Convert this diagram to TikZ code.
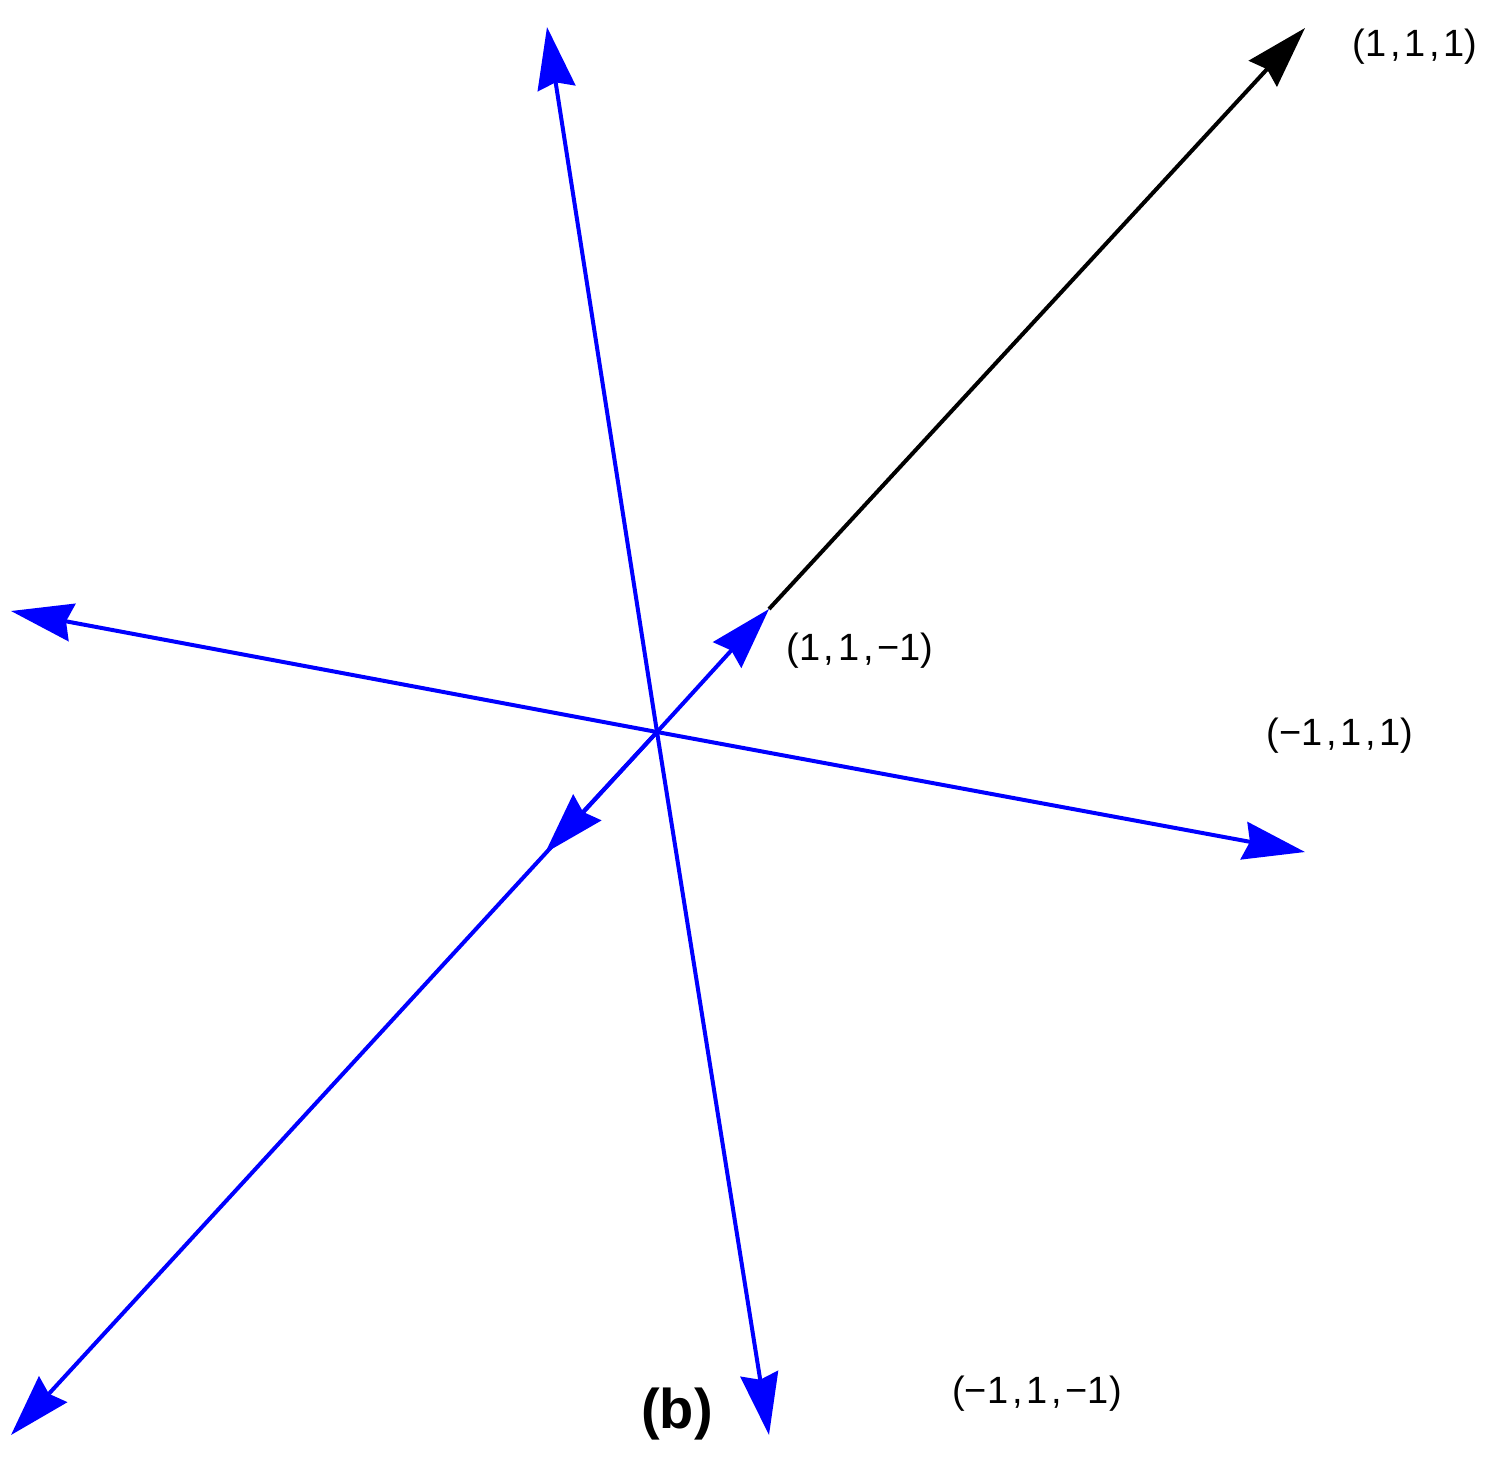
\documentclass[tikz,border=0pt]{standalone}
\usepackage{fontspec}
\setmainfont{Liberation Sans}
\usetikzlibrary{arrows.meta}
\newcommand\tcomma{\hspace{0.1em},\hspace{0.1em}}
\tikzset{
  vec/.style={line width=2pt, -{Stealth[length=31pt,width=19pt,inset=3pt]}},
  bvec/.style={vec, blue},
  kvec/.style={vec, black},
  lbl/.style={inner sep=0pt, anchor=base, font=\fontsize{19}{22}\selectfont},
  tag/.style={inner sep=0pt, anchor=base, font=\fontsize{28}{32}\selectfont\bfseries}
}
\begin{document}
\begin{tikzpicture}[x=0.5pt, y=-0.5pt]
\useasboundingbox (0,0) rectangle (1486,1467);
\coordinate (O) at (657,732);
\coordinate (A1) at (769,609);
\coordinate (A2) at (545,853);
\coordinate (D1) at (1305,28);
\coordinate (D2) at (11,1435);
\coordinate (V1) at (547,27);
\coordinate (V2) at (769,1435);
\coordinate (H1) at (11,611);
\coordinate (H2) at (1305,852);
\draw[kvec] (A1) -- (D1);
\draw[bvec] (O) -- (A1);
\draw[bvec] (O) -- (A2);
\draw[bvec] (O) -- (D2);
\draw[bvec] (O) -- (V1);
\draw[bvec] (O) -- (V2);
\draw[bvec] (O) -- (H1);
\draw[bvec] (O) -- (H2);
\node[lbl] (l111) at (1415,56) {(1\tcomma 1\tcomma 1)};
\node[lbl] (l11m) at (860,660) {(1\tcomma 1\tcomma −1)};
\node[lbl] (lm11) at (1340,745) {(−1\tcomma 1\tcomma 1)};
\node[lbl] (lm1m) at (1037,1403) {(−1\tcomma 1\tcomma −1)};
\node[tag] (b) at (677,1428) {(b)};
\end{tikzpicture}
\end{document}
